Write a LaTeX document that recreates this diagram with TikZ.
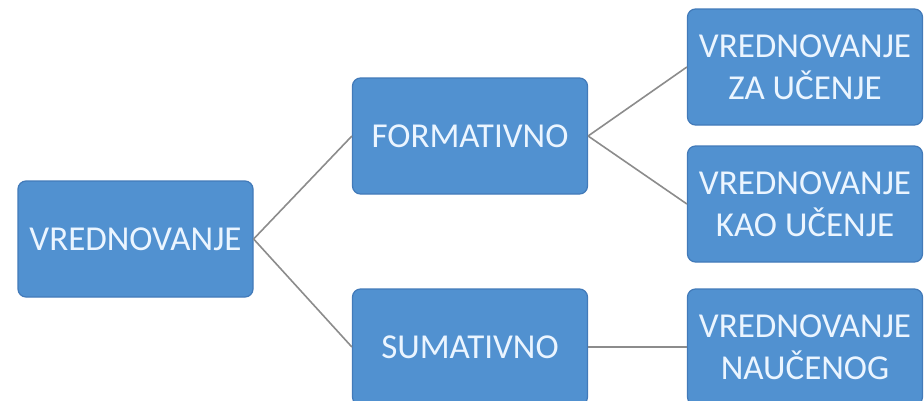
\documentclass[tikz,border=0pt]{standalone}
\usepackage{fontspec}
\setmainfont{Carlito}
\definecolor{boxfill}{RGB}{81,145,208}
\definecolor{boxline}{RGB}{66,122,185}
\definecolor{linkgray}{RGB}{140,140,140}
\definecolor{txt}{RGB}{235,245,255}
\tikzset{
  box/.style={draw=boxline, line width=1.2pt, fill=boxfill, rounded corners=8pt,
    minimum width=235pt, minimum height=116pt, inner sep=0pt, align=center,
    text=txt, font=\fontsize{35}{42}\selectfont},
  link/.style={draw=linkgray, line width=1.6pt}
}
\begin{document}
\begin{tikzpicture}[x=1pt,y=-1pt]
\useasboundingbox (0,0) rectangle (924,400);
\clip (0,0) rectangle (924,400);
\fill[white] (0,0) rectangle (924,400);
\node[box] (root) at (135.5,239) {VREDNOVANJE};
\node[box] (form) at (470,136) {FORMATIVNO};
\node[box] (sum)  at (470,347) {SUMATIVNO};
\node[box] (za)   at (805,67) {VREDNOVANJE\\ZA UČENJE};
\node[box] (kao)  at (805,204) {VREDNOVANJE\\KAO UČENJE};
\node[box] (nau)  at (805,347) {VREDNOVANJE\\NAUČENOG};
\draw[link] (root.east) -- (form.west);
\draw[link] (root.east) -- (sum.west);
\draw[link] (form.east) -- (za.west);
\draw[link] (form.east) -- (kao.west);
\draw[link] (sum.east) -- (nau.west);
\end{tikzpicture}
\end{document}
